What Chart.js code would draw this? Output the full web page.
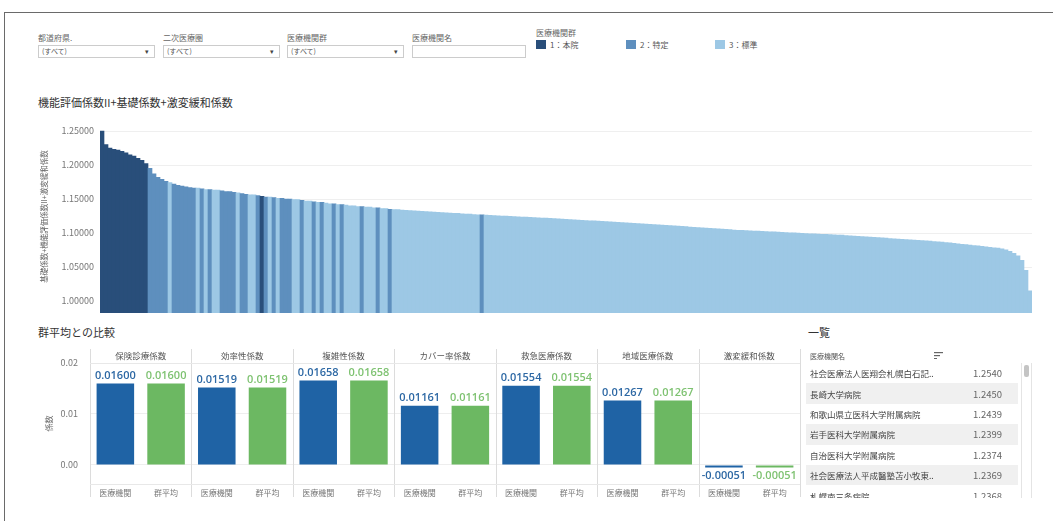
<!DOCTYPE html>
<html lang="ja">
<head>
<meta charset="UTF-8" />
<title>機能評価係数II ダッシュボード</title>
<script src="https://cdn.jsdelivr.net/npm/chart.js"></script>
<style>
  body { margin: 0; width: 1053px; height: 521px; position: relative; overflow: hidden; background: #fff; font-family: "Noto Sans CJK JP", sans-serif; color: #555; }
  .frame { position: absolute; left: 4px; top: 12px; width: 1070px; height: 530px; border-top: 1.5px solid #6a6a6a; border-left: 1.5px solid #6a6a6a; }
  .flt { position: absolute; top: 33px; font-size: 8px; line-height: 10px; color: #666; }
  .flt .box { margin-top: 2px; width: 117px; height: 13px; border: 1px solid #ccc; box-sizing: border-box; font-size: 7px; line-height: 11px; padding-left: 3px; position: relative; color: #555; }
  .flt .box .arr { position: absolute; right: 5px; top: 0; font-size: 7px; color: #444; }
  .legend-title { position: absolute; left: 536px; top: 27px; font-size: 8px; color: #666; }
  .leg { position: absolute; top: 40px; font-size: 8px; line-height: 10px; color: #555; }
  .leg i { display: inline-block; width: 10px; height: 9px; vertical-align: -1px; margin-right: 4px; }
  .title { position: absolute; font-size: 11px; color: #333; }
  canvas { position: absolute; left: 0; }
  #list { position: absolute; left: 806px; top: 349px; width: 226px; height: 149px; overflow: hidden; }
  #list .head { height: 14px; font-size: 7px; line-height: 14px; color: #555; padding-left: 4px; position: relative; }
  #list .head svg { position: absolute; left: 128px; top: 3px; }
  #list .row { height: 20.4px; display: flex; align-items: center; width: 212px; font-size: 8.5px; color: #444; }
  #list .row:nth-child(even) { background: #f0f0f0; }
  #list .row .n { flex: 1; padding-left: 4px; white-space: nowrap; overflow: hidden; }
  #list .row .v { width: 60px; text-align: right; padding-right: 16px; font-size: 9.5px; color: #666; }
  #list .rows { position: absolute; top: 14px; left: 0; }
  #list .track { position: absolute; left: 215px; top: 14px; width: 9px; height: 135px; border-left: 1px solid #e4e4e4; border-right: 1px solid #e4e4e4; }
  #list .thumb { position: absolute; left: 218px; top: 16px; width: 5px; height: 12px; background: #c4c4c4; border-radius: 2px; }
</style>
</head>
<body>
<div class="frame"></div>

<div class="flt" style="left:38px">都道府県.<div class="box">(すべて)<span class="arr">▾</span></div></div>
<div class="flt" style="left:163px">二次医療圏<div class="box">(すべて)<span class="arr">▾</span></div></div>
<div class="flt" style="left:287px">医療機関群<div class="box">(すべて)<span class="arr">▾</span></div></div>
<div class="flt" style="left:412px">医療機関名<div class="box" style="width:114px"></div></div>

<div class="legend-title">医療機関群</div>
<div class="leg" style="left:536px"><i style="background:#294e7a"></i>1：本院</div>
<div class="leg" style="left:626px"><i style="background:#5e8fbe"></i>2：特定</div>
<div class="leg" style="left:715px"><i style="background:#9dc8e5"></i>3：標準</div>

<div class="title" style="left:38px; top:94px">機能評価係数II+基礎係数+激変緩和係数</div>
<canvas id="main" width="1053" height="198" style="top:115px"></canvas>

<div class="title" style="left:38px; top:324px">群平均との比較</div>
<canvas id="cmp" width="810" height="160" style="top:340px"></canvas>

<div class="title" style="left:808px; top:324px">一覧</div>
<div id="list">
  <div class="head">医療機関名
    <svg width="9" height="7"><rect x="0" y="0" width="9" height="1.2" fill="#666"/><rect x="0" y="3" width="6" height="1.2" fill="#666"/><rect x="0" y="6" width="3" height="1.2" fill="#666"/></svg>
  </div>
  <div class="rows" id="rows"></div>
  <div class="track"></div>
  <div class="thumb"></div>
</div>

<script>
// ---- 機能評価係数II+基礎係数+激変緩和係数 (医療機関ごと, 降順) ----
const mainValues = [
  1.250,1.230,1.225,1.223,1.222,1.220,1.218,1.215,1.213,1.210,
  1.207,1.202,1.195,1.187,1.182,1.179,1.176,1.174,1.172,1.170,
  1.169,1.168,1.167,1.166,1.166,1.165,1.164,1.164,1.163,1.163,
  1.162,1.161,1.161,1.160,1.159,1.158,1.157,1.156,1.156,1.155,
  1.154,1.153,1.153,1.152,1.151,1.151,1.150,1.150,1.149,1.149,
  1.148,1.147,1.147,1.146,1.145,1.145,1.144,1.143,1.143,1.142,
  1.142,1.141,1.140,1.140,1.139,1.139,1.138,1.138,1.137,1.137,
  1.136,1.136,1.135,1.1346,1.1343,1.1339,1.1335,1.1331,1.1328,1.1324,
  1.1320,1.1317,1.1313,1.1309,1.1306,1.1302,1.1298,1.1295,1.1291,1.1288,
  1.1284,1.1280,1.1277,1.1273,1.1269,1.1266,1.1263,1.1260,1.1257,1.1254,
  1.1251,1.1248,1.1245,1.1242,1.1239,1.1236,1.1233,1.1230,1.1227,1.1224,
  1.1221,1.1218,1.1215,1.1212,1.1208,1.1205,1.1201,1.1198,1.1195,1.1191,
  1.1188,1.1184,1.1181,1.1178,1.1174,1.1171,1.1167,1.1164,1.1161,1.1157,
  1.1154,1.1150,1.1147,1.1144,1.1140,1.1137,1.1133,1.1129,1.1125,1.1121,
  1.1117,1.1113,1.1109,1.1105,1.1101,1.1097,1.1093,1.1089,1.1085,1.1081,
  1.1077,1.1073,1.1069,1.1065,1.1061,1.1057,1.1053,1.1049,1.1045,1.1041,
  1.1038,1.1035,1.1032,1.1029,1.1027,1.1024,1.1021,1.1018,1.1016,1.1013,
  1.1010,1.1007,1.1004,1.1002,1.0999,1.0996,1.0993,1.0990,1.0988,1.0985,
  1.0982,1.0979,1.0977,1.0974,1.0971,1.0968,1.0964,1.0960,1.0956,1.0952,
  1.0948,1.0944,1.0940,1.0936,1.0932,1.0928,1.0924,1.0920,1.0916,1.0912,
  1.0908,1.0904,1.0900,1.0896,1.0892,1.0888,1.0884,1.0880,1.0876,1.0872,
  1.0867,1.0861,1.0854,1.0848,1.0842,1.0835,1.0829,1.0823,1.0816,1.0810,
  1.0804,1.0797,1.0790,1.0783,1.0777,1.0768,1.0752,1.0730,1.0700,1.0665,
  1.0600,1.0450,1.0150
];
// 医療機関群 (1:本院 2:特定 3:標準) を [群, 件数] の並びで
const groupRuns = [
  [1,12],[2,5],[3,1],[2,6],[3,1],[2,1],[3,1],[2,1],[3,2],[2,4],
  [3,1],[2,2],[3,2],[2,1],[1,1],[2,1],[3,1],[2,1],[3,1],[2,3],
  [3,2],[2,1],[3,2],[2,1],[3,1],[2,1],[3,2],[2,1],[3,1],[2,1],
  [3,4],[2,1],[3,3],[2,1],[3,2],[2,1],[3,22],[2,1],[3,137]
];
const groupColors = { 1: '#294e7a', 2: '#5e8fbe', 3: '#9dc8e5' };
const mainTicks = [1.00, 1.05, 1.10, 1.15, 1.20, 1.25];

// ---- 群平均との比較 ----
const panelNames = ['保険診療係数', '効率性係数', '複雑性係数', 'カバー率係数', '救急医療係数', '地域医療係数', '激変緩和係数'];
const barNames = ['医療機関', '群平均'];
const hospVals = [0.01600, 0.01519, 0.01658, 0.01161, 0.01554, 0.01267, -0.00051];
const avgVals  = [0.01600, 0.01519, 0.01658, 0.01161, 0.01554, 0.01267, -0.00051];
const cmpTicks = [0, 0.01, 0.02];

// ---- 一覧 ----
const listNames = ['社会医療法人医翔会札幌白石記..', '長崎大学病院', '和歌山県立医科大学附属病院', '岩手医科大学附属病院', '自治医科大学附属病院', '社会医療法人平成醫塾苫小牧東..', '札幌南三条病院'];
const listVals = ['1.2540', '1.2450', '1.2439', '1.2399', '1.2374', '1.2369', '1.2368'];

const font = '"Noto Sans CJK JP", sans-serif';
Chart.defaults.font.family = font;

// main chart
const groups = [];
groupRuns.forEach(([g, n]) => { for (let k = 0; k < n; k++) groups.push(g); });

new Chart(document.getElementById('main'), {
  type: 'bar',
  data: {
    labels: mainValues.map((_, i) => i + 1),
    datasets: [{
      data: mainValues,
      backgroundColor: groups.map(g => groupColors[g]),
      borderWidth: 0,
      categoryPercentage: 1,
      barPercentage: 1
    }]
  },
  options: {
    responsive: false,
    animation: false,
    layout: { padding: { left: 40, right: 21, top: 5, bottom: 0 } },
    plugins: { legend: { display: false }, tooltip: { enabled: false } },
    scales: {
      x: { display: false },
      y: {
        min: 0.9824, max: 1.2662,
        afterBuildTicks: s => { s.ticks = mainTicks.map(v => ({ value: v })); },
        afterFit: s => { s.width = 60; s.paddingTop = 0; s.paddingBottom = 0; },
        grid: { color: '#efefef', drawTicks: false },
        border: { display: false },
        ticks: { padding: 6, font: { size: 9 }, color: '#777', callback: v => Number(v).toFixed(5) },
        title: { display: true, text: '基礎係数+機能評価係数II+激変緩和係数', font: { size: 7.5 }, color: '#666', padding: 0 }
      }
    }
  }
});

// comparison chart
const cmpLabels = [], cmpData = [], cmpColors = [];
panelNames.forEach((p, k) => {
  cmpLabels.push(barNames[0], barNames[1]);
  cmpData.push(hospVals[k], avgVals[k]);
  cmpColors.push('#1f63a5', '#6cb862');
});

const panelPlugin = {
  id: 'panels',
  afterDraw(chart) {
    const { ctx, chartArea: a } = chart;
    const w = (a.right - a.left) / panelNames.length;
    ctx.save();
    ctx.strokeStyle = '#dcdcdc';
    ctx.lineWidth = 1;
    for (let k = 0; k <= panelNames.length; k++) {
      const x = Math.round(a.left + k * w) + 0.5;
      ctx.beginPath(); ctx.moveTo(x, 9); ctx.lineTo(x, 157); ctx.stroke();
    }
    ctx.strokeStyle = '#e8e8e8';
    [a.top, a.bottom].forEach(y => {
      ctx.beginPath(); ctx.moveTo(a.left, Math.round(y) + 0.5); ctx.lineTo(a.right, Math.round(y) + 0.5); ctx.stroke();
    });
    ctx.fillStyle = '#555';
    ctx.font = '8.5px ' + font;
    ctx.textAlign = 'center';
    ctx.textBaseline = 'middle';
    panelNames.forEach((p, k) => ctx.fillText(p, a.left + (k + 0.5) * w, 16));
    // value labels
    const meta = chart.getDatasetMeta(0);
    ctx.font = '600 11px "Open Sans", sans-serif';
    meta.data.forEach((bar, i) => {
      const v = cmpData[i];
      ctx.fillStyle = i % 2 === 0 ? '#2d68a4' : '#7ec271';
      if (v >= 0) { ctx.textBaseline = 'bottom'; ctx.fillText(v.toFixed(5), bar.x, bar.y - 2); }
      else { ctx.textBaseline = 'top'; ctx.fillText(v.toFixed(5), bar.x, bar.y + 3); }
    });
    ctx.restore();
  }
};

new Chart(document.getElementById('cmp'), {
  type: 'bar',
  data: {
    labels: cmpLabels,
    datasets: [{ data: cmpData, backgroundColor: cmpColors, borderWidth: 0, categoryPercentage: 1, barPercentage: 0.74 }]
  },
  options: {
    responsive: false,
    animation: false,
    layout: { padding: { left: 40, right: 10, top: 23, bottom: 0 } },
    plugins: { legend: { display: false }, tooltip: { enabled: false } },
    scales: {
      x: {
        afterFit: s => { s.height = 16; },
        grid: { display: false, drawTicks: false },
        border: { display: false },
        ticks: { font: { size: 8 }, color: '#777', padding: 4, maxRotation: 0, autoSkip: false }
      },
      y: {
        min: -0.00373, max: 0.02,
        afterBuildTicks: s => { s.ticks = cmpTicks.map(v => ({ value: v })); },
        afterFit: s => { s.width = 50; s.paddingBottom = 0; },
        grid: { color: '#eeeeee', drawTicks: false },
        border: { display: false },
        ticks: { padding: 12, font: { size: 9 }, color: '#777', callback: v => Number(v).toFixed(2) },
        title: { display: true, text: '係数', font: { size: 8 }, color: '#666', padding: 4 }
      }
    }
  },
  plugins: [panelPlugin]
});

// list
document.getElementById('rows').innerHTML = listNames.map((n, i) =>
  `<div class="row"><span class="n">${n}</span><span class="v">${listVals[i]}</span></div>`).join('');
</script>
</body>
</html>
